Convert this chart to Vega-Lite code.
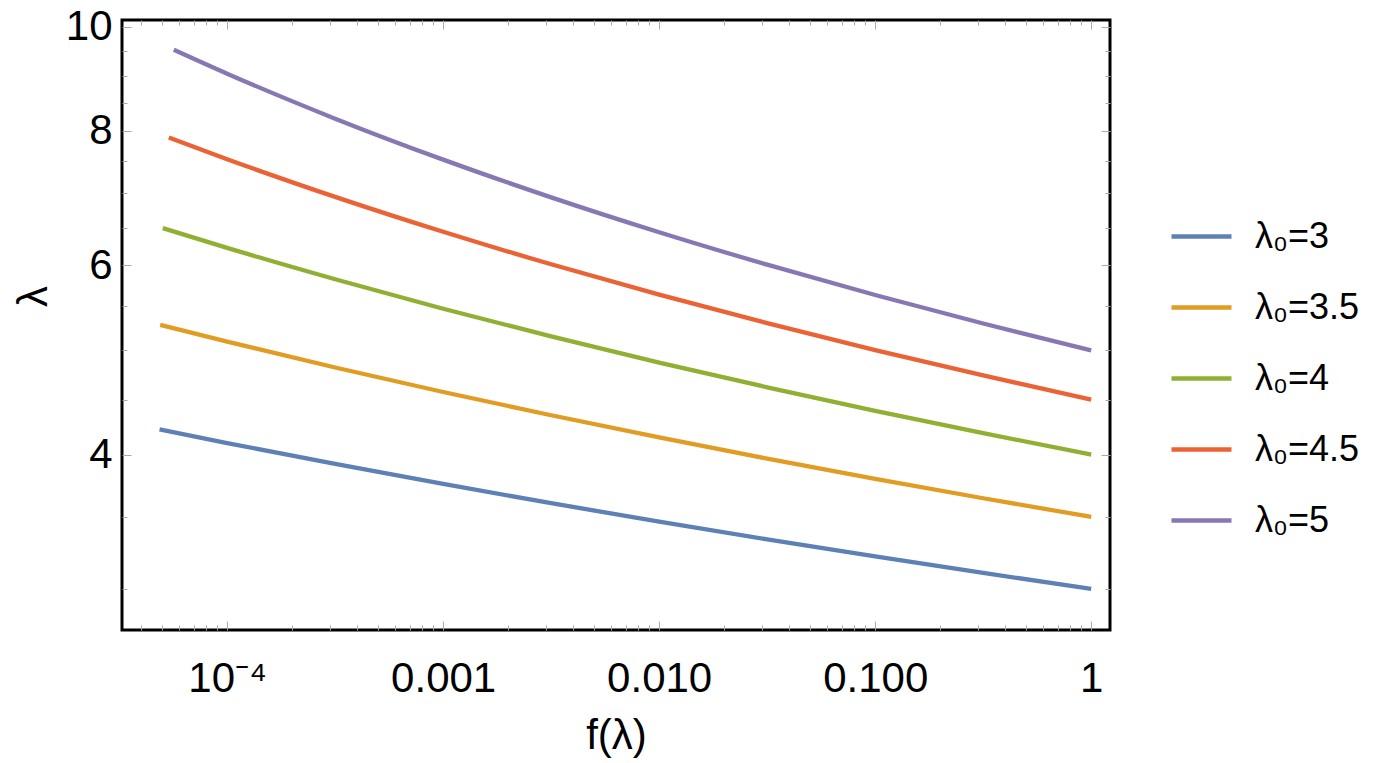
{
  "$schema": "https://vega.github.io/schema/vega-lite/v6.json",
  "width": 988,
  "height": 610,
  "autosize": {"type": "none"},
  "padding": {"left": 122, "top": 20, "right": 282, "bottom": 133},
  "background": "white",
  "config": {
    "view": {"stroke": "black", "strokeWidth": 3},
    "font": "Liberation Sans",
    "axis": {"labelFont": "Liberation Sans", "titleFont": "Liberation Sans", "labelColor": "black", "titleColor": "black", "labelFontWeight": "normal", "grid": false, "domain": false, "labelFlush": false, "labelOverlap": false}
  },
  "data": {"values": [
    {"series": "λ₀=3", "f": 0.00004864, "lambda": 4.2209},
    {"series": "λ₀=3", "f": 0.0001, "lambda": 4.0998},
    {"series": "λ₀=3", "f": 0.00031623, "lambda": 3.9202},
    {"series": "λ₀=3", "f": 0.001, "lambda": 3.7556},
    {"series": "λ₀=3", "f": 0.0031623, "lambda": 3.6043},
    {"series": "λ₀=3", "f": 0.01, "lambda": 3.4647},
    {"series": "λ₀=3", "f": 0.031623, "lambda": 3.3356},
    {"series": "λ₀=3", "f": 0.1, "lambda": 3.2157},
    {"series": "λ₀=3", "f": 0.31623, "lambda": 3.1041},
    {"series": "λ₀=3", "f": 1, "lambda": 3.0},
    {"series": "λ₀=3.5", "f": 0.00004898, "lambda": 5.2808},
    {"series": "λ₀=3.5", "f": 0.0001, "lambda": 5.0944},
    {"series": "λ₀=3.5", "f": 0.00031623, "lambda": 4.82},
    {"series": "λ₀=3.5", "f": 0.001, "lambda": 4.5736},
    {"series": "λ₀=3.5", "f": 0.0031623, "lambda": 4.3511},
    {"series": "λ₀=3.5", "f": 0.01, "lambda": 4.1493},
    {"series": "λ₀=3.5", "f": 0.031623, "lambda": 3.9654},
    {"series": "λ₀=3.5", "f": 0.1, "lambda": 3.7971},
    {"series": "λ₀=3.5", "f": 0.31623, "lambda": 3.6425},
    {"series": "λ₀=3.5", "f": 1, "lambda": 3.5},
    {"series": "λ₀=4", "f": 0.00005035, "lambda": 6.497},
    {"series": "λ₀=4", "f": 0.0001, "lambda": 6.2274},
    {"series": "λ₀=4", "f": 0.00031623, "lambda": 5.8222},
    {"series": "λ₀=4", "f": 0.001, "lambda": 5.4664},
    {"series": "λ₀=4", "f": 0.0031623, "lambda": 5.1517},
    {"series": "λ₀=4", "f": 0.01, "lambda": 4.8712},
    {"series": "λ₀=4", "f": 0.031623, "lambda": 4.6196},
    {"series": "λ₀=4", "f": 0.1, "lambda": 4.3928},
    {"series": "λ₀=4", "f": 0.31623, "lambda": 4.1872},
    {"series": "λ₀=4", "f": 1, "lambda": 4.0},
    {"series": "λ₀=4.5", "f": 0.0000537, "lambda": 7.8885},
    {"series": "λ₀=4.5", "f": 0.0001, "lambda": 7.53},
    {"series": "λ₀=4.5", "f": 0.00031623, "lambda": 6.9455},
    {"series": "λ₀=4.5", "f": 0.001, "lambda": 6.4451},
    {"series": "λ₀=4.5", "f": 0.0031623, "lambda": 6.012},
    {"series": "λ₀=4.5", "f": 0.01, "lambda": 5.6334},
    {"series": "λ₀=4.5", "f": 0.031623, "lambda": 5.2997},
    {"series": "λ₀=4.5", "f": 0.1, "lambda": 5.0033},
    {"series": "λ₀=4.5", "f": 0.31623, "lambda": 4.7384},
    {"series": "λ₀=4.5", "f": 1, "lambda": 4.5},
    {"series": "λ₀=5", "f": 0.00005662, "lambda": 9.5185},
    {"series": "λ₀=5", "f": 0.0001, "lambda": 9.0432},
    {"series": "λ₀=5", "f": 0.00031623, "lambda": 8.2131},
    {"series": "λ₀=5", "f": 0.001, "lambda": 7.5225},
    {"series": "λ₀=5", "f": 0.0031623, "lambda": 6.939},
    {"series": "λ₀=5", "f": 0.01, "lambda": 6.4396},
    {"series": "λ₀=5", "f": 0.031623, "lambda": 6.0072},
    {"series": "λ₀=5", "f": 0.1, "lambda": 5.6292},
    {"series": "λ₀=5", "f": 0.31623, "lambda": 5.296},
    {"series": "λ₀=5", "f": 1, "lambda": 5.0}
  ]},
  "layer": [
    {
      "mark": {"type": "line", "strokeWidth": 4.3, "interpolate": "monotone"},
      "encoding": {
        "x": {"field": "f", "type": "quantitative", "scale": {"type": "log", "domain": [0.0000326, 1.222], "nice": false},
          "axis": {"orient": "bottom", "values": [0.0001, 0.001, 0.01, 0.1, 1], "ticks": false,
            "labelExpr": "datum.value < 0.0005 ? '10⁻⁴' : datum.value >= 1 ? '1' : format(datum.value, '.3f')",
            "labelFontSize": 42, "labelPadding": 28, "title": "f(λ)", "titleFontSize": 42, "titleFontWeight": "normal",
            "titleY": 105, "titleBaseline": "middle"}},
        "y": {"field": "lambda", "type": "quantitative", "scale": {"type": "log", "domain": [2.747, 10.145], "nice": false},
          "axis": {"orient": "left", "values": [4, 6, 8, 10], "ticks": false, "labelFontSize": 42, "labelPadding": 10,
            "title": "λ", "titleFontSize": 42, "titleFontWeight": "normal", "titleX": -89, "titleY": 276, "titleBaseline": "middle"}},
        "color": {"field": "series", "type": "nominal",
          "scale": {"domain": ["λ₀=3", "λ₀=3.5", "λ₀=4", "λ₀=4.5", "λ₀=5"], "range": ["#5E81B5", "#E19C24", "#8FB032", "#EB6235", "#8778B3"]},
          "legend": {"orient": "none", "legendX": 1047, "legendY": 184, "title": null, "symbolType": "stroke", "symbolSize": 3600,
            "symbolStrokeWidth": 4.3, "labelFontSize": 36, "labelFont": "Liberation Sans", "labelColor": "black", "rowPadding": 20, "labelOffset": 21, "padding": 0}}
      }
    },
    {
      "mark": {"type": "point", "opacity": 0},
      "encoding": {
        "x": {"field": "f", "type": "quantitative", "scale": {"type": "log", "domain": [0.0000326, 1.222], "nice": false},
          "axis": {"orient": "bottom", "values": [0.0001, 0.001, 0.01, 0.1, 1], "labels": false, "ticks": true, "tickSize": -9, "tickColor": "#aaaaaa", "tickWidth": 1, "title": null}},
        "y": {"field": "lambda", "type": "quantitative", "scale": {"type": "log", "domain": [2.747, 10.145], "nice": false},
          "axis": {"orient": "left", "values": [4, 6, 8, 10], "labels": false, "ticks": true, "tickSize": -9, "tickColor": "#aaaaaa", "tickWidth": 1, "title": null}}
      }
    },
    {
      "mark": {"type": "point", "opacity": 0},
      "encoding": {
        "x": {"field": "f", "type": "quantitative", "scale": {"type": "log", "domain": [0.0000326, 1.222], "nice": false},
          "axis": {"orient": "bottom", "values": [0.00004, 0.00005, 0.00006, 0.00007, 0.00008, 0.00009, 0.0002, 0.0003, 0.0004, 0.0005, 0.0006, 0.0007, 0.0008, 0.0009, 0.002, 0.003, 0.004, 0.005, 0.006, 0.007, 0.008, 0.009, 0.02, 0.03, 0.04, 0.05, 0.06, 0.07, 0.08, 0.09, 0.2, 0.3, 0.4, 0.5, 0.6, 0.7, 0.8, 0.9], "labels": false, "ticks": true, "tickSize": -5, "tickColor": "#aaaaaa", "tickWidth": 1, "title": null}},
        "y": {"field": "lambda", "type": "quantitative", "scale": {"type": "log", "domain": [2.747, 10.145], "nice": false},
          "axis": {"orient": "left", "values": [3, 3.5, 4.5, 5, 5.5, 6.5, 7, 7.5, 8.5, 9, 9.5], "labels": false, "ticks": true, "tickSize": -5, "tickColor": "#aaaaaa", "tickWidth": 1, "title": null}}
      }
    },
    {
      "mark": {"type": "point", "opacity": 0},
      "encoding": {
        "x": {"field": "f", "type": "quantitative", "scale": {"type": "log", "domain": [0.0000326, 1.222], "nice": false},
          "axis": {"orient": "top", "values": [0.0001, 0.001, 0.01, 0.1, 1], "labels": false, "ticks": true, "tickSize": -9, "tickColor": "#aaaaaa", "tickWidth": 1, "title": null}},
        "y": {"field": "lambda", "type": "quantitative", "scale": {"type": "log", "domain": [2.747, 10.145], "nice": false},
          "axis": {"orient": "right", "values": [4, 6, 8, 10], "labels": false, "ticks": true, "tickSize": -9, "tickColor": "#aaaaaa", "tickWidth": 1, "title": null}}
      }
    },
    {
      "mark": {"type": "point", "opacity": 0},
      "encoding": {
        "x": {"field": "f", "type": "quantitative", "scale": {"type": "log", "domain": [0.0000326, 1.222], "nice": false},
          "axis": {"orient": "top", "values": [0.00004, 0.00005, 0.00006, 0.00007, 0.00008, 0.00009, 0.0002, 0.0003, 0.0004, 0.0005, 0.0006, 0.0007, 0.0008, 0.0009, 0.002, 0.003, 0.004, 0.005, 0.006, 0.007, 0.008, 0.009, 0.02, 0.03, 0.04, 0.05, 0.06, 0.07, 0.08, 0.09, 0.2, 0.3, 0.4, 0.5, 0.6, 0.7, 0.8, 0.9], "labels": false, "ticks": true, "tickSize": -5, "tickColor": "#aaaaaa", "tickWidth": 1, "title": null}},
        "y": {"field": "lambda", "type": "quantitative", "scale": {"type": "log", "domain": [2.747, 10.145], "nice": false},
          "axis": {"orient": "right", "values": [3, 3.5, 4.5, 5, 5.5, 6.5, 7, 7.5, 8.5, 9, 9.5], "labels": false, "ticks": true, "tickSize": -5, "tickColor": "#aaaaaa", "tickWidth": 1, "title": null}}
      }
    }
  ],
  "resolve": {"axis": {"x": "independent", "y": "independent"}}
}
